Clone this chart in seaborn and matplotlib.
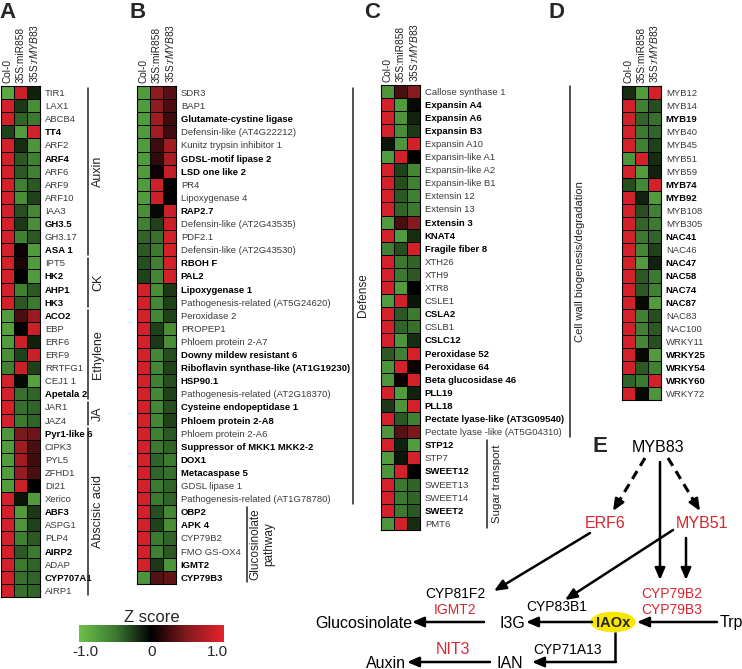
import matplotlib
matplotlib.use("Agg")
import matplotlib.pyplot as plt
import seaborn as sns
import numpy as np
import pandas as pd
from matplotlib.colors import LinearSegmentedColormap
from matplotlib.patches import Ellipse

sns.set_theme(style="white")
plt.rcParams['font.family'] = ['Liberation Sans', 'DejaVu Sans']
plt.rcParams['mathtext.fontset'] = 'custom'
plt.rcParams['mathtext.rm'] = 'Liberation Sans'
plt.rcParams['mathtext.it'] = 'Liberation Sans:italic'

# ---- data (Z scores: Col-0, 35S:miR858, 35S:rMYB83) ----
samples = ['Col-0', '35S:miR858', '35S:$\\it{rMYB83}$']

genes_a = ['TIR1', 'LAX1', 'ABCB4', 'TT4', 'ARF2', 'ARF4', 'ARF6', 'ARF9', 'ARF10', 'IAA3',
           'GH3.5', 'GH3.17', 'ASA 1', 'IPT5', 'HK2', 'AHP1', 'HK3', 'ACO2', 'EBP', 'ERF6',
           'ERF9', 'RRTFG1', 'CEJ1 1', 'Apetala 2', 'JAR1', 'JAZ4', 'Pyr1-like 6', 'CIPK3',
           'PYL5', 'ZFHD1', 'DI21', 'Xerico', 'ABF3', 'ASPG1', 'PLP4', 'AIRP2', 'ADAP',
           'CYP707A1', 'AIRP1']
z_a = [[-0.9, 0.95, -0.15], [1, -0.25, -0.7], [1, -0.45, -0.55], [-0.3, -0.8, 1],
       [1, -0.2, -0.75], [1, -0.4, -0.6], [1, -0.4, -0.6], [1, -0.6, -0.4],
       [1, -0.7, -0.3], [1, -0.35, -0.65], [1, -0.25, -0.7], [1, -0.6, -0.4],
       [1, 0.05, -0.8], [1, 0.1, -0.8], [1, 0.0, -0.8], [1, -0.6, -0.4],
       [1, -0.4, -0.55], [-0.8, 0.3, 0.65], [-0.85, 0.0, 0.95], [-0.8, 0.95, -0.15],
       [-0.7, -0.3, 0.95], [-0.6, 0.95, -0.3], [1, -0.05, -0.85], [1, -0.5, -0.45],
       [1, -0.5, -0.45], [1, -0.55, -0.45], [-0.75, 0.5, 0.45], [-0.8, 0.7, 0.3],
       [-0.8, 0.7, 0.25], [-0.8, 0.65, 0.3], [-0.8, 0.95, 0.0], [1, -0.1, -0.8],
       [1, -0.8, -0.25], [1, -0.75, -0.3], [1, -0.6, -0.4], [1, -0.4, -0.55],
       [1, -0.55, -0.45], [1, -0.5, -0.45], [1, -0.5, -0.45]]
bold_a = ['TT4', 'ARF4', 'GH3.5', 'ASA 1', 'HK2', 'AHP1', 'HK3', 'ACO2', 'Apetala 2',
          'Pyr1-like 6', 'ABF3', 'AIRP2', 'CYP707A1']
groups_a = [('Auxin', 0, 13), ('CK', 13, 17), ('Ethylene', 17, 24), ('JA', 24, 26),
            ('Abscisic acid', 26, 39)]

genes_b = ['SDR3', 'BAP1', 'Glutamate-cystine ligase', 'Defensin-like (AT4G22212)',
           'Kunitz trypsin inhibitor 1', 'GDSL-motif lipase 2', 'LSD one like 2', 'PR4',
           'Lipoxygenase 4', 'RAP2.7', 'Defensin-like (AT2G43535)', 'PDF2.1',
           'Defensin-like (AT2G43530)', 'RBOH F', 'PAL2', 'Lipoxygenase 1',
           'Pathogenesis-related (AT5G24620)', 'Peroxidase 2', 'PROPEP1', 'Phloem protein 2-A7',
           'Downy mildew resistant 6', 'Riboflavin synthase-like (AT1G19230)', 'HSP90.1',
           'Pathogenesis-related (AT2G18370)', 'Cysteine endopeptidase 1', 'Phloem protein 2-A8',
           'Phloem protein 2-A6', 'Suppressor of MKK1 MKK2-2', 'DOX1', 'Metacaspase 5',
           'GDSL lipase 1', 'Pathogenesis-related (AT1G78780)', 'OBP2', 'APK 4', 'CYP79B2',
           'FMO GS-OX4', 'IGMT2', 'CYP79B3']
z_b = [[-0.8, 0.6, 0.35], [-0.8, 0.6, 0.3], [-0.8, 0.7, 0.25], [-0.8, 0.7, 0.25],
       [-0.8, 0.25, 0.7], [-0.8, 0.2, 0.75], [-0.8, 0.05, 0.9], [-0.8, 0.95, 0.0],
       [-0.8, 0.95, 0.0], [-0.7, -0.05, 0.95], [-0.6, -0.3, 0.95], [-0.45, -0.5, 1],
       [-0.4, -0.55, 1], [-0.35, -0.6, 1], [-0.3, -0.65, 1], [1, -0.7, -0.25],
       [1, -0.65, -0.3], [1, -0.65, -0.3], [1, -0.3, -0.7], [1, -0.25, -0.7],
       [1, -0.65, -0.35], [1, -0.65, -0.3], [1, -0.6, -0.35], [1, -0.65, -0.3],
       [1, -0.65, -0.35], [1, -0.65, -0.3], [1, -0.6, -0.4], [1, -0.55, -0.45],
       [1, -0.45, -0.55], [1, -0.45, -0.5], [1, -0.55, -0.45], [1, -0.55, -0.45],
       [1, -0.35, -0.65], [1, -0.3, -0.7], [1, -0.55, -0.45], [1, -0.6, -0.4],
       [1, -0.25, -0.75], [-0.75, 0.35, 0.4]]
bold_b = ['Glutamate-cystine ligase', 'GDSL-motif lipase 2', 'LSD one like 2', 'RAP2.7',
          'RBOH F', 'PAL2', 'Lipoxygenase 1', 'Downy mildew resistant 6',
          'Riboflavin synthase-like (AT1G19230)', 'HSP90.1', 'Cysteine endopeptidase 1',
          'Phloem protein 2-A8', 'Suppressor of MKK1 MKK2-2', 'DOX1', 'Metacaspase 5',
          'OBP2', 'APK 4', 'IGMT2', 'CYP79B3']

genes_c = ['Callose synthase 1', 'Expansin A4', 'Expansin A6', 'Expansin B3', 'Expansin A10',
           'Expansin-like A1', 'Expansin-like A2', 'Expansin-like B1', 'Extensin 12',
           'Extensin 13', 'Extensin 3', 'KNAT4', 'Fragile fiber 8', 'XTH26', 'XTH9', 'XTR8',
           'CSLE1', 'CSLA2', 'CSLB1', 'CSLC12', 'Peroxidase 52', 'Peroxidase 64',
           'Beta glucosidase 46', 'PLL19', 'PLL18', 'Pectate lyase-like (AT3G09540)',
           'Pectate lyase -like (AT5G04310)', 'STP12', 'STP7', 'SWEET12', 'SWEET13',
           'SWEET14', 'SWEET2', 'PMT6']
z_c = [[-0.75, 0.3, 0.55], [1, -0.8, -0.05], [1, -0.75, -0.15], [1, -0.7, -0.25],
       [-0.1, -0.75, 1], [-0.8, 1, 0.0], [1, -0.3, -0.65], [1, -0.35, -0.6],
       [1, -0.4, -0.6], [1, -0.45, -0.55], [-0.8, 0.3, 0.55], [1, -0.8, -0.2],
       [-0.6, -0.35, 1], [1, -0.55, -0.45], [1, -0.55, -0.4], [1, -0.8, 0.0],
       [-0.8, 1, -0.1], [1, -0.4, -0.55], [1, -0.45, -0.5], [1, -0.75, -0.2],
       [-0.4, -0.6, 1], [-0.75, 1, 0.05], [-0.75, 0.05, 1], [1, -0.8, -0.15],
       [-0.25, -0.75, 1], [1, -0.4, -0.6], [-0.75, 0.35, 0.5], [1, -0.15, -0.8],
       [-0.8, -0.1, 1], [-0.75, 1, 0.0], [1, -0.55, -0.45], [1, -0.55, -0.45],
       [1, -0.55, -0.4], [-0.75, 1, -0.2]]
bold_c = ['Expansin A4', 'Expansin A6', 'Expansin B3', 'Extensin 3', 'KNAT4',
          'Fragile fiber 8', 'CSLA2', 'CSLC12', 'Peroxidase 52', 'Peroxidase 64',
          'Beta glucosidase 46', 'PLL19', 'PLL18', 'Pectate lyase-like (AT3G09540)',
          'STP12', 'SWEET12', 'SWEET2']

genes_d = ['MYB12', 'MYB14', 'MYB19', 'MYB40', 'MYB45', 'MYB51', 'MYB59', 'MYB74', 'MYB92',
           'MYB108', 'MYB305', 'NAC41', 'NAC46', 'NAC47', 'NAC58', 'NAC74', 'NAC87', 'NAC83',
           'NAC100', 'WRKY11', 'WRKY25', 'WRKY54', 'WRKY60', 'WRKY72']
z_d = [[-0.2, -0.8, 1], [1, -0.6, -0.35], [1, -0.45, -0.5], [1, -0.55, -0.45],
       [1, -0.6, -0.3], [-0.75, 1, -0.2], [1, -0.8, -0.15], [-0.35, -0.65, 1],
       [1, -0.15, -0.8], [1, -0.35, -0.6], [1, -0.45, -0.55], [1, -0.55, -0.45],
       [1, -0.65, -0.3], [1, -0.8, -0.15], [1, -0.4, -0.55], [1, -0.4, -0.6],
       [1, -0.05, -0.8], [1, -0.6, -0.35], [1, -0.6, -0.4], [1, -0.65, -0.35],
       [1, -0.05, -0.8], [1, -0.4, -0.6], [-0.45, -0.55, 1], [1, -0.05, -0.75]]
bold_d = ['MYB19', 'MYB74', 'MYB92', 'NAC41', 'NAC47', 'NAC58', 'NAC74', 'NAC87',
          'WRKY25', 'WRKY54', 'WRKY60']

cbar_ticks = [-1.0, 0, 1.0]
cbar_ticklabels = ['-1.0', '0', '1.0']

cmap = LinearSegmentedColormap.from_list(
    'gkr', ['#6cc04a', '#3c7a30', '#000000', '#861a1e', '#e3222b'])

W, H = 742, 669
fig = plt.figure(figsize=(W / 100, H / 100), dpi=100)


def px(x0, y0, x1, y1):
    return [x0 / W, 1 - y1 / H, (x1 - x0) / W, (y1 - y0) / H]


ROW = 13.1
TOP = 86


def draw_heat(x0, top, genes, z, bold):
    ax = fig.add_axes(px(x0, top, x0 + 39, top + ROW * len(genes)))
    df = pd.DataFrame(z, index=genes, columns=samples)
    sns.heatmap(df, ax=ax, cmap=cmap, vmin=-1.1, vmax=1.1, cbar=False,
                linewidths=0.6, linecolor='black', xticklabels=True, yticklabels=True)
    ax.tick_params(axis='x', top=True, bottom=False, labeltop=True, labelbottom=False,
                   length=0, pad=2, labelsize=7.3, labelrotation=90)
    ax.tick_params(axis='y', right=True, left=False, labelright=True, labelleft=False,
                   length=0, pad=3.5, labelsize=6.8, labelrotation=0)
    for t in ax.get_xticklabels():
        t.set_color('#222222')
    for t in ax.get_yticklabels():
        if t.get_text() in bold:
            t.set_fontweight('bold')
            t.set_color('black')
        else:
            t.set_color('#3a3a3a')
    for s in ax.spines.values():
        s.set_visible(True)
        s.set_linewidth(0.8)
        s.set_color('black')
    ax.set_xlabel('')
    ax.set_ylabel('')
    return ax


ax_a = draw_heat(1, TOP, genes_a, z_a, bold_a)
ax_b = draw_heat(137, TOP, genes_b, z_b, bold_b)
ax_c = draw_heat(381, TOP - 1.5, genes_c, z_c, bold_c)
ax_d = draw_heat(622, TOP, genes_d, z_d, bold_d)

# colour bar
cax = fig.add_axes(px(79, 625, 224, 642))
cb = fig.colorbar(ax_a.collections[0], cax=cax, orientation='horizontal')
cb.set_ticks(cbar_ticks)
cb.set_ticklabels(cbar_ticklabels)
cb.outline.set_visible(False)
cax.tick_params(length=0, labelsize=11, pad=2)
cax.set_title('Z score', fontsize=12, pad=1)

# overlay in pixel coordinates for brackets, letters and pathway
ov = fig.add_axes([0, 0, 1, 1])
ov.set_xlim(0, W)
ov.set_ylim(H, 0)
ov.axis('off')
ov.patch.set_alpha(0)


def bracket(x, top, r0, r1, label, fs=8.5, tx=None):
    y0 = top + r0 * ROW + 1.5
    y1 = top + r1 * ROW - 1.5
    ov.plot([x, x], [y0, y1], color='#222222', lw=1.1)
    ov.text(x + 10 if tx is None else tx, (y0 + y1) / 2, label, rotation=90,
            ha='center', va='center', fontsize=fs, color='#222222')


for name, r0, r1 in groups_a:
    bracket(88, TOP, r0, r1, name, fs=9)
bracket(353, TOP, 0, 32, 'Defense')
bracket(247, TOP, 32, 38, 'Glucosinolate\npathway', fs=8.5, tx=262)
bracket(570, TOP - 1.5, 0, 27, 'Cell wall biogenesis/degradation', fs=8)
bracket(487, TOP - 1.5, 27, 34, 'Sugar transport', fs=8.2)

for letter, x, y in [('A', 8, 12), ('B', 138, 12), ('C', 372, 13), ('D', 556, 12), ('E', 600, 447)]:
    ov.text(x, y, letter, fontsize=16, fontweight='bold', ha='center', va='center')

# pathway (panel E)
red = '#d9262e'
nodes = [('MYB83', 658, 447, 'black', 11.5), ('ERF6', 605, 523, red, 11.5),
         ('MYB51', 702, 523, red, 11.5), ('CYP81F2', 455, 594, 'black', 10),
         ('IGMT2', 455, 610, red, 10), ('CYP83B1', 557, 607, 'black', 10),
         ('CYP79B2', 672, 594, red, 10), ('CYP79B3', 672, 610, red, 10),
         ('Glucosinolate', 364, 623, 'black', 11.5), ('I3G', 512, 623, 'black', 11.5),
         ('Trp', 731, 623, 'black', 11.5), ('NIT3', 453, 649, red, 11.5),
         ('CYP71A13', 568, 650, 'black', 10), ('Auxin', 386, 663, 'black', 11.5),
         ('IAN', 510, 663, 'black', 11.5)]
for name, x, y, c, fs in nodes:
    ov.text(x, y, name, color=c, fontsize=fs, ha='center', va='center')

ov.add_patch(Ellipse((613, 622), 44, 19, color='#f7e600', zorder=1))
ov.text(613, 623, 'IAOx', fontsize=10.5, fontweight='bold', ha='center', va='center', zorder=2)

arrow_kw = dict(arrowstyle='-|>,head_length=0.7,head_width=0.3', color='black', lw=1.8,
                mutation_scale=10, shrinkA=0, shrinkB=0)


def arrow(x0, y0, x1, y1):
    ov.annotate('', xy=(x1, y1), xytext=(x0, y0), arrowprops=arrow_kw)


def dashed_arrow(x0, y0, x1, y1):
    f = 0.82
    xm, ym = x0 + (x1 - x0) * f, y0 + (y1 - y0) * f
    ov.plot([x0, xm], [y0, ym], color='black', lw=2.2, ls=(0, (3, 2)))
    arrow(xm, ym, x1, y1)


dashed_arrow(645, 458, 613, 511)
dashed_arrow(668, 458, 700, 511)
arrow(660, 462, 660, 580)
arrow(686, 538, 686, 580)
arrow(590, 533, 494, 591)
arrow(673, 530, 565, 600)
arrow(484, 622, 412, 622)
arrow(592, 622, 526, 622)
arrow(717, 622, 637, 622)
ov.plot([615, 615], [632, 662], color='black', lw=1.8, solid_capstyle='butt')
arrow(616, 662, 532, 662)
arrow(490, 662, 407, 662)

fig.savefig('out.png', dpi=100)
